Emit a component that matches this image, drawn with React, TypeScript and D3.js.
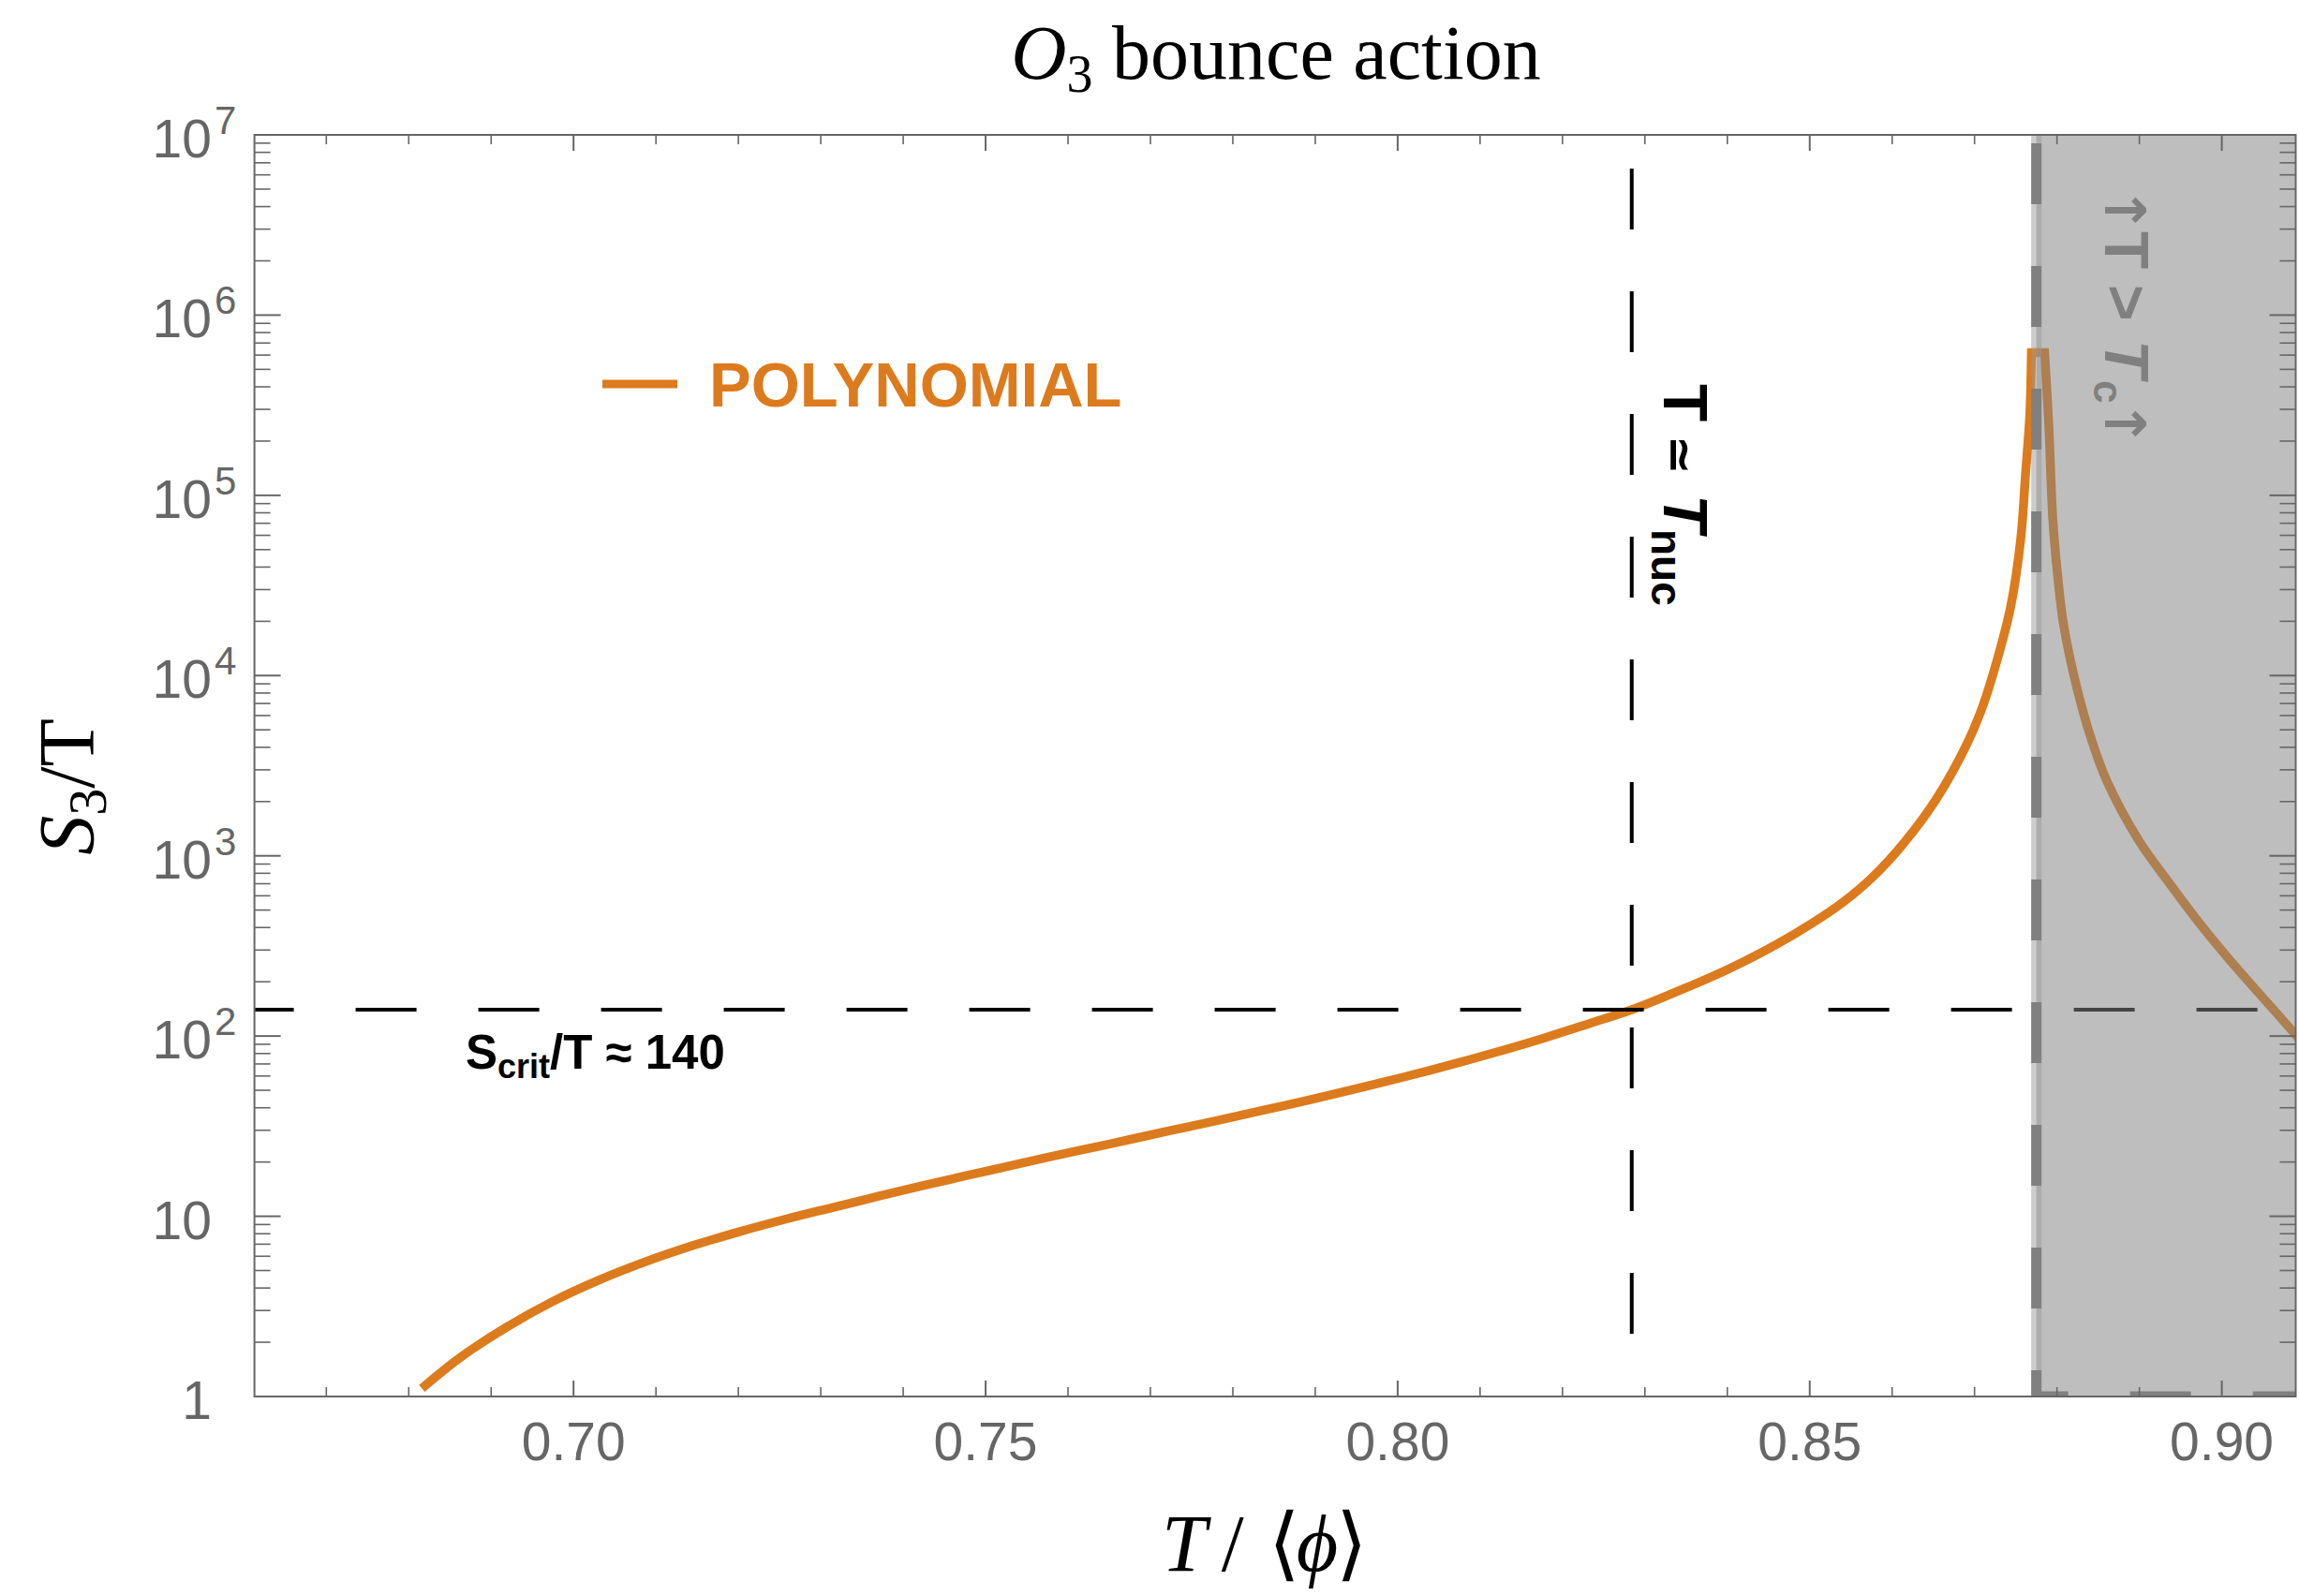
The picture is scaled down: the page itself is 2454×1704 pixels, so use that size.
import React from 'react';
import * as d3 from 'd3';

// ---- data ----
// rising branch (below T_c) and falling branch (above T_c) of S3/T
const T_VALUES = [0.6816, 0.6861, 0.6918, 0.6974, 0.7031, 0.7088, 0.7144, 0.7200, 0.7257, 0.7314, 0.7370, 0.7426, 0.7483, 0.7540, 0.7596, 0.7652, 0.7725, 0.7781, 0.7838, 0.7894, 0.7951, 0.8007, 0.8064, 0.8120, 0.8177, 0.8233, 0.8284, 0.8347, 0.8403, 0.8460, 0.8501, 0.8540, 0.8577, 0.8615, 0.8653, 0.8691, 0.8710, 0.8728, 0.8744, 0.8756, 0.8762, 0.8767, 0.8769, 0.8785, 0.8790, 0.8795, 0.8801, 0.8808, 0.8824, 0.8842, 0.8861, 0.8899, 0.8938, 0.8975, 0.9013, 0.9051, 0.9090, 0.9100];
const S_VALUES = [1.11, 1.627, 2.413, 3.353, 4.428, 5.609, 6.858, 8.181, 9.627, 11.17, 12.91, 14.86, 17.06, 19.54, 22.28, 25.29, 29.92, 33.96, 38.82, 44.36, 51.17, 59.16, 69.18, 81.47, 97.27, 117.5, 140, 182.8, 237.1, 322.8, 416.9, 550.8, 767.4, 1189, 2046, 4198, 6776, 12470, 24320, 57280, 133970, 279250, 619440, 619440, 248300, 73280, 35320, 19190, 8590, 4397, 2570, 1222, 688.7, 411.1, 253.5, 161.1, 101.2, 89.7];
const PEAK_INDEX = 42; // last point of the rising branch

const X_MAJOR = [0.70, 0.75, 0.80, 0.85, 0.90];
const X_LABELS = ['0.70', '0.75', '0.80', '0.85', '0.90'];
const Y_MAJOR = [1, 10, 1e2, 1e3, 1e4, 1e5, 1e6, 1e7];
const Y_LABEL_BASE = ['1', '10', '10', '10', '10', '10', '10', '10'];
const Y_LABEL_EXP = ['', '', '2', '3', '4', '5', '6', '7'];

const T_NUC = 0.8284;
const T_C = 0.8775;
const S_CRIT = 140;
const X_DOMAIN = [0.66128, 0.90897];
const Y_DOMAIN = [1, 1e7];

const SERIES_NAME = 'POLYNOMIAL';
const TITLE_MAIN = 'O';
const TITLE_SUB = '3';
const TITLE_REST = ' bounce action';

// ---- layout / style ----
const W = 2454;
const H = 1704;
const PL = 271.6, PR = 2450.5, PT = 144, PB = 1491;
const AXIS = '#666666';
const ORANGE = '#dc7b1d';
const SANS = '"Liberation Sans", Arial, Helvetica, sans-serif';
const SERIF = '"Liberation Serif", "Times New Roman", serif';
const ARROWFONT = '"DejaVu Sans", sans-serif';

export default function App() {
  const x = d3.scaleLinear().domain(X_DOMAIN).range([PL, PR]);
  const y = d3.scaleLog().domain(Y_DOMAIN).range([PB, PT]);

  const pts: [number, number][] = T_VALUES.map((t, i) => [t, S_VALUES[i]]);
  const line = d3
    .line<[number, number]>()
    .x((d) => x(d[0]))
    .y((d) => y(d[1]))
    .curve(d3.curveCatmullRom.alpha(0.5));
  const rising = line(pts.slice(0, PEAK_INDEX + 1)) || '';
  const falling = (line(pts.slice(PEAK_INDEX + 1)) || '').replace(/^M/, 'L');
  const curveD = rising + falling;

  const xMinor = d3
    .range(60, 92)
    .map((v) => v / 100)
    .filter((v) => !X_MAJOR.some((m) => Math.abs(m - v) < 1e-9))
    .filter((v) => v >= X_DOMAIN[0] && v <= X_DOMAIN[1]);
  const yMinor: number[] = [];
  for (let k = 0; k < 7; k++) for (let m = 2; m <= 9; m++) yMinor.push(m * Math.pow(10, k));

  const xTc = x(T_C);
  const xNuc = x(T_NUC);
  const yCrit = y(S_CRIT);

  return (
    <svg
      width={W}
      height={H}
      viewBox={`0 0 ${W} ${H}`}
      style={{ position: 'absolute', left: 0, top: 0, background: '#fff' }}
    >
      <defs>
        <clipPath id="plotClip">
          <rect x={PL} y={PT} width={PR - PL} height={PB - PT} />
        </clipPath>
      </defs>
      <rect x={0} y={0} width={W} height={H} fill="#fff" />

      {/* Title */}
      <text x={1362} y={84} textAnchor="middle" fontFamily={SERIF} fontSize={82} fill="#000">
        <tspan fontStyle="italic">{TITLE_MAIN}</tspan>
        <tspan fontSize={56} dy={14}>{TITLE_SUB}</tspan>
        <tspan dy={-14}>{TITLE_REST}</tspan>
      </text>

      <g clipPath="url(#plotClip)">
        {/* curve */}
        <path d={curveD} fill="none" stroke={ORANGE} strokeWidth={9.5} strokeLinejoin="miter" strokeMiterlimit={10} />
        {/* S_crit line */}
        <line x1={PL} x2={PR} y1={yCrit} y2={yCrit} stroke="#000" strokeWidth={4} strokeDasharray="65 66" strokeDashoffset={23} />
        {/* T_nuc line */}
        <line x1={xNuc} x2={xNuc} y1={PT} y2={PB} stroke="#000" strokeWidth={4} strokeDasharray="65 66" strokeDashoffset={95} />
        {/* T > Tc region */}
        <rect x={xTc} y={PT} width={PR - xTc} height={PB - PT} fill="rgb(131,131,131)" fillOpacity={0.52} />
        <line x1={xTc} x2={xTc} y1={PT} y2={PB} stroke="#999" strokeOpacity={0.5} strokeWidth={11} />
        <line x1={xTc} x2={xTc} y1={PT} y2={PB} stroke="#808080" strokeWidth={11} strokeDasharray="65 66" strokeDashoffset={122} />
        <line x1={xTc} x2={PR} y1={PB} y2={PB} stroke="#808080" strokeWidth={11} strokeDasharray="65 66" strokeDashoffset={31} />
      </g>

      {/* Frame */}
      <rect x={PL} y={PT} width={PR - PL} height={PB - PT} fill="none" stroke={AXIS} strokeWidth={2} />

      {/* x ticks */}
      {X_MAJOR.map((v) => (
        <g key={'xM' + v}>
          <line x1={x(v)} x2={x(v)} y1={PB} y2={PB - 17} stroke={AXIS} strokeWidth={2} />
          <line x1={x(v)} x2={x(v)} y1={PT} y2={PT + 17} stroke={AXIS} strokeWidth={2} />
        </g>
      ))}
      {xMinor.map((v) => (
        <g key={'xm' + v}>
          <line x1={x(v)} x2={x(v)} y1={PB} y2={PB - 10} stroke={AXIS} strokeWidth={1.6} />
          <line x1={x(v)} x2={x(v)} y1={PT} y2={PT + 10} stroke={AXIS} strokeWidth={1.6} />
        </g>
      ))}
      {X_MAJOR.map((v, i) => (
        <text key={'xl' + v} x={x(v)} y={PB + 68} textAnchor="middle" fontFamily={SANS} fontSize={57} fill={AXIS}>
          {X_LABELS[i]}
        </text>
      ))}

      {/* y ticks */}
      {Y_MAJOR.map((v) => (
        <g key={'yM' + v}>
          <line x1={PL} x2={PL + 28} y1={y(v)} y2={y(v)} stroke={AXIS} strokeWidth={2} />
          <line x1={PR} x2={PR - 28} y1={y(v)} y2={y(v)} stroke={AXIS} strokeWidth={2} />
        </g>
      ))}
      {yMinor.map((v) => (
        <g key={'ym' + v}>
          <line x1={PL} x2={PL + 17} y1={y(v)} y2={y(v)} stroke={AXIS} strokeWidth={1.6} />
          <line x1={PR} x2={PR - 17} y1={y(v)} y2={y(v)} stroke={AXIS} strokeWidth={1.6} />
        </g>
      ))}
      {Y_MAJOR.map((v, i) => (
        <g key={'yl' + v}>
          <text x={226} y={y(v) + 24} textAnchor="end" fontFamily={SANS} fontSize={57} fill={AXIS}>
            {Y_LABEL_BASE[i]}
          </text>
          {Y_LABEL_EXP[i] && (
            <text x={229} y={y(v) - 1} textAnchor="start" fontFamily={SANS} fontSize={42} fill={AXIS}>
              {Y_LABEL_EXP[i]}
            </text>
          )}
        </g>
      ))}

      {/* axis labels */}
      <text x={1240} y={1677} fontFamily={SERIF} fontSize={86} fill="#000">
        <tspan fontStyle="italic">T</tspan>
        <tspan dx={16}>/</tspan>
        <tspan dx={26}>⟨</tspan>
        <tspan dx={-4} fontStyle="italic">ϕ</tspan>
        <tspan dx={-2}>⟩</tspan>
      </text>
      <text transform="translate(100,840) rotate(-90)" textAnchor="middle" fontFamily={SERIF} fontSize={84} fill="#000">
        <tspan fontStyle="italic">S</tspan>
        <tspan fontSize={58} dy={13}>3</tspan>
        <tspan dy={-13}>/T</tspan>
      </text>

      {/* legend */}
      <line x1={643} x2={723} y1={410} y2={410} stroke={ORANGE} strokeWidth={9} />
      <text x={757} y={434} fontFamily={SANS} fontWeight="bold" fontSize={67} fill={ORANGE}>
        {SERIES_NAME}
      </text>

      {/* annotations */}
      <text x={497} y={1141} fontFamily={SANS} fontWeight="bold" fontSize={51} fill="#000">
        <tspan>S</tspan>
        <tspan fontSize={36} dy={10}>crit</tspan>
        <tspan dy={-10}>/T ≈ 140</tspan>
      </text>
      <g transform="translate(1776,410) rotate(90)">
        <text fontFamily={SANS} fontWeight="bold" fontSize={66} fill="#000">
          <tspan x={0}>T</tspan>
          <tspan x={55} fontFamily={ARROWFONT} fontSize={50}>≃</tspan>
          <tspan x={118} fontStyle="italic">T</tspan>
          <tspan x={155} fontSize={46} dy={13}>nuc</tspan>
        </text>
      </g>
      <g transform="translate(2247,203) rotate(90)">
        <text fontFamily={SANS} fontWeight="bold" fontSize={66} fill="#808080">
          <tspan x={-4} fontFamily={ARROWFONT} fontSize={60}>↑</tspan>
          <tspan x={44}>T</tspan>
          <tspan x={101}>&gt;</tspan>
          <tspan x={160} fontStyle="italic">T</tspan>
          <tspan x={203} fontSize={44} dy={12}>c</tspan>
          <tspan x={224} dy={-12} fontFamily={ARROWFONT} fontSize={60}>↑</tspan>
        </text>
      </g>
    </svg>
  );
}
